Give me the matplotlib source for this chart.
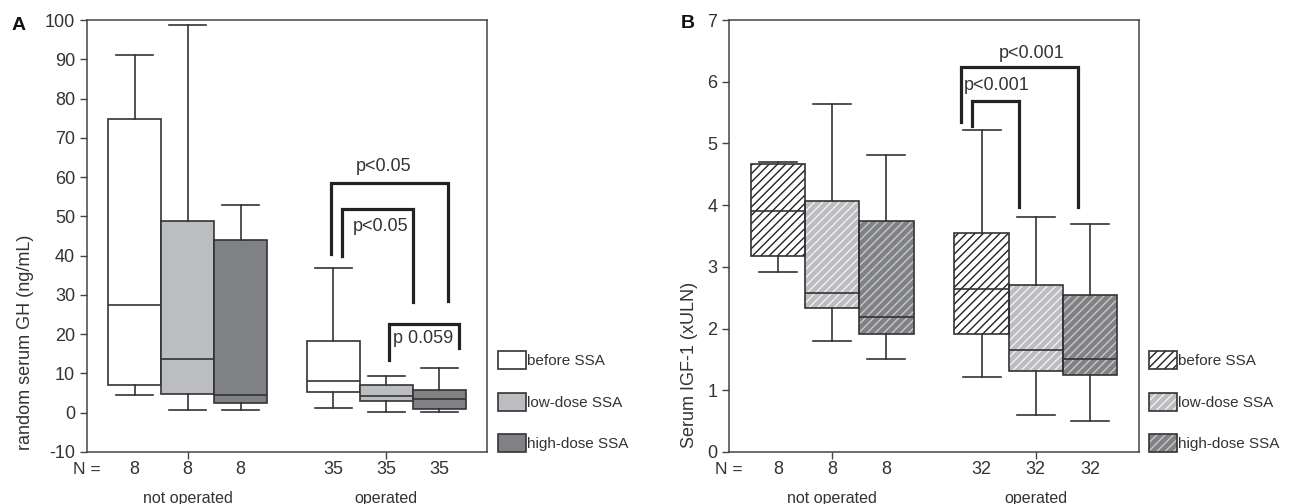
import matplotlib
matplotlib.use("Agg")
import matplotlib.pyplot as plt
from matplotlib.patches import Patch, PathPatch
from matplotlib.legend_handler import HandlerTuple

plt.rcParams['font.family'] = ['Liberation Sans', 'DejaVu Sans']
plt.rcParams['hatch.linewidth'] = 1.0
plt.rcParams['axes.unicode_minus'] = False

groups = ['before SSA', 'low-dose SSA', 'high-dose SSA']
n_gh = [8, 8, 8, 35, 35, 35]
n_igf = [8, 8, 8, 32, 32, 32]
positions = [1, 2, 3, 4.75, 5.75, 6.75]

# GH boxes: whislo, q1, med, q3, whishi
gh_lo = [4.5, 0.6, 0.6, 1.3, 0.3, 0.3]
gh_q1 = [7.1, 4.8, 2.5, 5.2, 2.9, 0.9]
gh_med = [27.5, 13.7, 4.5, 8.1, 4.2, 3.5]
gh_q3 = [74.7, 48.9, 44.1, 18.3, 7.1, 5.8]
gh_hi = [91.2, 98.8, 53.0, 36.8, 9.4, 11.3]

# IGF-1 boxes
igf_lo = [2.91, 1.80, 1.51, 1.21, 0.60, 0.50]
igf_q1 = [3.18, 2.33, 1.91, 1.91, 1.32, 1.25]
igf_med = [3.90, 2.57, 2.18, 2.64, 1.66, 1.51]
igf_q3 = [4.66, 4.06, 3.74, 3.55, 2.70, 2.54]
igf_hi = [4.70, 5.64, 4.81, 5.22, 3.80, 3.69]

# brackets: x_left, x_right, y_left, y_top, y_right, label, label_x, label_y
gh_brackets = [
    (4.71, 6.91, 40.5, 58.6, 28.5, 'p<0.05', 5.70, 62.6),
    (4.92, 6.25, 40.0, 51.9, 28.3, 'p<0.05', 5.64, 47.3),
    (5.80, 7.13, 13.5, 22.6, 16.5, 'p 0.059', 6.45, 18.9),
]
igf_brackets = [
    (4.37, 6.52, 5.34, 6.24, 3.97, 'p<0.001', 5.67, 6.46),
    (4.58, 5.44, 5.28, 5.68, 3.97, 'p<0.001', 5.02, 5.94),
]

face = ['white', '#bcbdc0', '#808185'] * 2
hatch_col = ['#222222', '#f2f2f2', '#c8c8c8'] * 2
dark = '#333333'

fig = plt.figure(figsize=(12.93, 5.04), dpi=100)
W, H = 1293, 504
axA = fig.add_axes([87 / W, 52 / H, 400 / W, 432 / H])
axB = fig.add_axes([729 / W, 52 / H, 410 / W, 432 / H])


def draw_boxes(ax, lo, q1, med, q3, hi, hatched):
    stats = [dict(whislo=lo[i], q1=q1[i], med=med[i], q3=q3[i], whishi=hi[i], fliers=[])
             for i in range(len(lo))]
    art = ax.bxp(stats, positions=positions, widths=1.0, capwidths=0.7,
                 patch_artist=True, showfliers=False, manage_ticks=False,
                 whiskerprops=dict(color=dark, lw=1.2),
                 capprops=dict(color=dark, lw=1.2),
                 medianprops=dict(color=dark, lw=1.2, zorder=4),
                 boxprops=dict(lw=1.2))
    for i, box in enumerate(art['boxes']):
        box.set_facecolor(face[i])
        if hatched:
            box.set_edgecolor(hatch_col[i])
            box.set_hatch('////')
            box.set_linewidth(0)
            ax.add_patch(PathPatch(box.get_path(), fc='none', ec=dark, lw=1.2,
                                   transform=box.get_transform(), zorder=3))
        else:
            box.set_edgecolor(dark)


def draw_brackets(ax, brackets):
    for xl, xr, yl, yt, yr, lab, tx, ty in brackets:
        ax.plot([xl, xl, xr, xr], [yl, yt, yt, yr], color='#222222', lw=2.3,
                solid_joinstyle='miter', zorder=5)
        ax.text(tx, ty, lab, ha='center', va='center', fontsize=13, color=dark)


def style(ax, ns):
    ax.set_xlim(0.1, 7.65)
    ax.set_xticks([2, 5.75])
    ax.set_xticklabels([])
    ax.tick_params(axis='both', direction='out', length=5, color='#444444',
                   labelsize=13, labelcolor=dark, width=1)
    for s in ax.spines.values():
        s.set_color('#444444')
        s.set_linewidth(1.1)
    tr = ax.get_xaxis_transform()
    ax.text(0.0, -0.04, 'N =', transform=ax.transAxes, ha='center', va='center',
            fontsize=12.5, color=dark)
    for p, n in zip(positions, ns):
        ax.text(p, -0.04, str(n), transform=tr, ha='center', va='center',
                fontsize=13, color=dark)
    ax.text(2, -0.107, 'not operated', transform=tr, ha='center', va='center',
            fontsize=11.5, color=dark)
    ax.text(5.75, -0.107, 'operated', transform=tr, ha='center', va='center',
            fontsize=11.5, color=dark)


draw_boxes(axA, gh_lo, gh_q1, gh_med, gh_q3, gh_hi, False)
draw_brackets(axA, gh_brackets)
axA.set_ylim(-10, 100)
axA.set_yticks(range(-10, 101, 10))
style(axA, n_gh)

draw_boxes(axB, igf_lo, igf_q1, igf_med, igf_q3, igf_hi, True)
draw_brackets(axB, igf_brackets)
axB.set_ylim(0, 7)
axB.set_yticks(range(0, 8))
style(axB, n_igf)

fig.text(26 / W, 1 - 342 / H, 'random serum GH (ng/mL)', rotation=90,
         ha='center', va='center', fontsize=13, color=dark)
fig.text(689 / W, 1 - 365 / H, 'Serum IGF-1 (xULN)', rotation=90,
         ha='center', va='center', fontsize=13, color=dark)
fig.text(19 / W, 1 - 25 / H, 'A', ha='center', va='center', fontsize=14,
         fontweight='bold', color='#111111')
fig.text(688 / W, 1 - 23 / H, 'B', ha='center', va='center', fontsize=14,
         fontweight='bold', color='#111111')


def legend(ax, x, hatched):
    handles = []
    for i in range(3):
        if hatched:
            h = (Patch(fc=face[i], ec=hatch_col[i], hatch='////', lw=0),
                 Patch(fc='none', ec=dark, lw=1.2))
        else:
            h = Patch(fc=face[i], ec=dark, lw=1.2)
        handles.append(h)
    ax.legend(handles, groups, loc='upper left', bbox_to_anchor=(x / W, 1 - 351 / H),
              bbox_transform=fig.transFigure, frameon=False, fontsize=11,
              handlelength=1.85, handleheight=1.43, handletextpad=0.05,
              labelspacing=1.55, borderpad=0, borderaxespad=0,
              labelcolor=dark, handler_map={tuple: HandlerTuple(ndivide=1, pad=0)})


legend(axA, 498, False)
legend(axB, 1149, True)

fig.savefig('out.png', dpi=100)
